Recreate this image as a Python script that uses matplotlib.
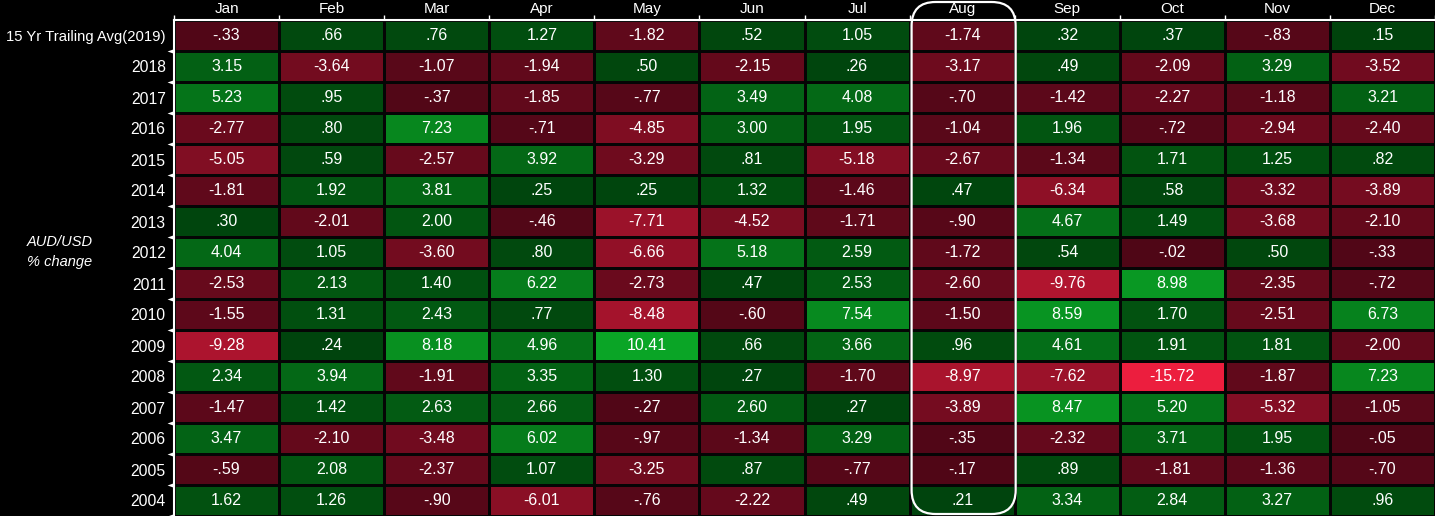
import numpy as np
import matplotlib
matplotlib.use("Agg")
import matplotlib.pyplot as plt
import matplotlib.transforms as mtransforms
from matplotlib.colors import LinearSegmentedColormap, TwoSlopeNorm
from matplotlib.patches import FancyBboxPatch

plt.rcParams['font.family'] = ['Liberation Sans', 'DejaVu Sans']

# Data: AUD/USD monthly % change
months = ['Jan', 'Feb', 'Mar', 'Apr', 'May', 'Jun',
          'Jul', 'Aug', 'Sep', 'Oct', 'Nov', 'Dec']
rows = ['15 Yr Trailing Avg(2019)', '2018', '2017', '2016', '2015', '2014',
        '2013', '2012', '2011', '2010', '2009', '2008', '2007', '2006',
        '2005', '2004']

avg15 = [-0.33, 0.66, 0.76, 1.27, -1.82, 0.52, 1.05, -1.74, 0.32, 0.37, -0.83, 0.15]
y2018 = [3.15, -3.64, -1.07, -1.94, 0.50, -2.15, 0.26, -3.17, 0.49, -2.09, 3.29, -3.52]
y2017 = [5.23, 0.95, -0.37, -1.85, -0.77, 3.49, 4.08, -0.70, -1.42, -2.27, -1.18, 3.21]
y2016 = [-2.77, 0.80, 7.23, -0.71, -4.85, 3.00, 1.95, -1.04, 1.96, -0.72, -2.94, -2.40]
y2015 = [-5.05, 0.59, -2.57, 3.92, -3.29, 0.81, -5.18, -2.67, -1.34, 1.71, 1.25, 0.82]
y2014 = [-1.81, 1.92, 3.81, 0.25, 0.25, 1.32, -1.46, 0.47, -6.34, 0.58, -3.32, -3.89]
y2013 = [0.30, -2.01, 2.00, -0.46, -7.71, -4.52, -1.71, -0.90, 4.67, 1.49, -3.68, -2.10]
y2012 = [4.04, 1.05, -3.60, 0.80, -6.66, 5.18, 2.59, -1.72, 0.54, -0.02, 0.50, -0.33]
y2011 = [-2.53, 2.13, 1.40, 6.22, -2.73, 0.47, 2.53, -2.60, -9.76, 8.98, -2.35, -0.72]
y2010 = [-1.55, 1.31, 2.43, 0.77, -8.48, -0.60, 7.54, -1.50, 8.59, 1.70, -2.51, 6.73]
y2009 = [-9.28, 0.24, 8.18, 4.96, 10.41, 0.66, 3.66, 0.96, 4.61, 1.91, 1.81, -2.00]
y2008 = [2.34, 3.94, -1.91, 3.35, 1.30, 0.27, -1.70, -8.97, -7.62, -15.72, -1.87, 7.23]
y2007 = [-1.47, 1.42, 2.63, 2.66, -0.27, 2.60, 0.27, -3.89, 8.47, 5.20, -5.32, -1.05]
y2006 = [3.47, -2.10, -3.48, 6.02, -0.97, -1.34, 3.29, -0.35, -2.32, 3.71, 1.95, -0.05]
y2005 = [-0.59, 2.08, -2.37, 1.07, -3.25, 0.87, -0.77, -0.17, 0.89, -1.81, -1.36, -0.70]
y2004 = [1.62, 1.26, -0.90, -6.01, -0.76, -2.22, 0.49, 0.21, 3.34, 2.84, 3.27, 0.96]

vals = np.array([avg15, y2018, y2017, y2016, y2015, y2014, y2013, y2012,
                 y2011, y2010, y2009, y2008, y2007, y2006, y2005, y2004])
highlight = 'Aug'


def fmt(v):
    s = f'{v:.2f}'
    return s.replace('0.', '.', 1) if abs(v) < 1 else s


# red (negative) -> green (positive), dark around zero
cmap = LinearSegmentedColormap.from_list('rg', [
    (0.0, '#ec1e3e'), (0.4999, '#4e0616'),
    (0.5, '#00420c'), (1.0, '#0aa526')])
norm = TwoSlopeNorm(vmin=vals.min(), vcenter=0, vmax=vals.max())

fig = plt.figure(figsize=(14.35, 5.16), dpi=100, facecolor='black')
ax = fig.add_axes([174 / 1435, 0, 1 - 174 / 1435, 496 / 516])
ax.set_facecolor('black')

nr, nc = vals.shape
ax.pcolormesh(np.arange(nc + 1), np.arange(nr + 1), vals, cmap=cmap, norm=norm,
              edgecolors='#050505', linewidth=1.0)
ax.set_xlim(0, nc)
ax.set_ylim(nr, 0)

for i in range(nr):
    for j in range(nc):
        ax.text(j + 0.5, i + 0.5, fmt(vals[i, j]), ha='center', va='center',
                color='white', fontsize=11.5)

# axes: labels on top, boundary ticks
ax.xaxis.tick_top()
ax.set_xticks(np.arange(nc) + 0.5)
ax.set_xticklabels(months, color='white', fontsize=11)
ax.set_xticks(np.arange(nc + 1), minor=True)
ax.tick_params(axis='x', which='major', length=0, pad=3)
ax.tick_params(axis='x', which='minor', length=3.5, width=1, color='white', direction='out')

ax.set_yticks(np.arange(nr) + 0.5)
ax.set_yticklabels(rows, color='white', fontsize=11.3)
ax.get_yticklabels()[0].set_fontsize(10.7)
ax.tick_params(axis='y', which='major', length=0, pad=6)

for side in ['right', 'bottom']:
    ax.spines[side].set_visible(False)
for side in ['left', 'top']:
    ax.spines[side].set_color('white')
    ax.spines[side].set_linewidth(1.5)

# little left-pointing triangles at the row boundaries
tri = [(0, 0.35), (0, -0.35), (-1, 0), (0, 0.35)]
ax.plot(np.zeros(nr), np.arange(1, nr + 1), linestyle='None', marker=tri,
        markersize=10, color='white', markeredgewidth=0, clip_on=False, zorder=5)

fig.text(27 / 1435, 1 - 252 / 516, 'AUD/USD\n% change', color='white',
         fontsize=10.5, style='italic', ha='left', va='center', linespacing=1.5)

# rounded box round the highlighted month
k = months.index(highlight)
x0, y_bot = ax.transData.transform((k, nr))
x1, y_top = ax.transData.transform((k + 1, 0))
box = FancyBboxPatch((x0 + 2, y_bot + 2), (x1 - x0) - 1, (y_top - y_bot) + 16,
                     boxstyle='round,pad=0,rounding_size=24',
                     transform=mtransforms.IdentityTransform(),
                     facecolor='none', edgecolor='white', linewidth=1.6,
                     zorder=10)
fig.add_artist(box)

fig.savefig('out.png', dpi=100, facecolor='black')
